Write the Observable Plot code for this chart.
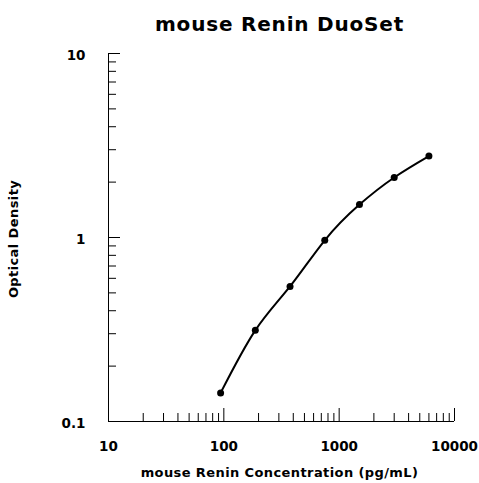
<!DOCTYPE html>
<html>
<head>
<meta charset="utf-8">
<script src="https://cdn.jsdelivr.net/npm/d3@7"></script>
<script src="https://cdn.jsdelivr.net/npm/@observablehq/plot@0.6"></script>
<style>
  html, body { margin: 0; padding: 0; background: #fff; }
  #chart svg { display: block; }
</style>
</head>
<body>
<div id="chart"></div>
<script>
const titleText = "mouse Renin DuoSet";
const xLabel = "mouse Renin Concentration (pg/mL)";
const yLabel = "Optical Density";

const concentration = [93.75, 187.5, 375, 750, 1500, 3000, 6000];
const opticalDensity = [0.143, 0.313, 0.542, 0.966, 1.51, 2.12, 2.77];

const xMajorTicks = [10, 100, 1000, 10000];
const xMinorTicks = [20, 30, 40, 50, 60, 70, 80, 90, 200, 300, 400, 500, 600, 700, 800, 900, 2000, 3000, 4000, 5000, 6000, 7000, 8000, 9000];
const yMajorTicks = [0.1, 1, 10];
const yMinorTicks = [0.2, 0.3, 0.4, 0.5, 0.6, 0.7, 0.8, 0.9, 2, 3, 4, 5, 6, 7, 8, 9];

const data = concentration.map((x, i) => ({x, y: opticalDensity[i]}));
const font = "'DejaVu Sans', sans-serif";

const W = 479, H = 483, mL = 108, mR = 25, mT = 53, mB = 62;
const frameW = W - mL - mR, frameH = H - mT - mB;

const chart = Plot.plot({
  width: W,
  height: H,
  marginLeft: mL,
  marginRight: mR,
  marginTop: mT,
  marginBottom: mB,
  style: {fontFamily: font, background: "#fff", color: "#000"},
  x: {type: "log", domain: [10, 10000]},
  y: {type: "log", domain: [0.1, 10]},
  marks: [
    // axis lines
    Plot.ruleY([0.1], {stroke: "#000", strokeWidth: 1}),
    Plot.ruleX([10], {stroke: "#000", strokeWidth: 1}),
    // x ticks (inward)
    Plot.tickX(xMajorTicks.slice(1), {x: d => d, insetTop: frameH - 13, stroke: "#000", strokeWidth: 1}),
    Plot.tickX(xMinorTicks, {x: d => d, insetTop: frameH - 8, stroke: "#000", strokeWidth: 1}),
    // y ticks (inward)
    Plot.tickY(yMajorTicks.slice(1), {y: d => d, insetRight: frameW - 12, stroke: "#000", strokeWidth: 1}),
    Plot.tickY(yMinorTicks, {y: d => d, insetRight: frameW - 8, stroke: "#000", strokeWidth: 1}),
    // tick labels
    Plot.axisX({ticks: xMajorTicks, tickSize: 0, tickPadding: 19.5, tickFormat: d => String(d), fontSize: 13.5, fontWeight: "bold", label: null, lineAnchor: "top"}),
    Plot.axisY({ticks: yMajorTicks, tickSize: 0, tickPadding: 23, tickFormat: d => String(d), fontSize: 13.5, fontWeight: "bold", label: null, dy: 2}),
    // curve and points
    Plot.line(data, {x: "x", y: "y", curve: "natural", stroke: "#000", strokeWidth: 2}),
    Plot.dot(data, {x: "x", y: "y", r: 3.5, fill: "#000", stroke: "none"}),
    // titles
    Plot.text([titleText], {frameAnchor: "top", textAnchor: "middle", dx: -2, dy: -29, lineAnchor: "middle", fontSize: 20, fontWeight: "bold", fill: "#000", text: d => d, style: {letterSpacing: "0.8px"}}),
    Plot.text([xLabel], {frameAnchor: "bottom", textAnchor: "middle", dx: -2, dy: 51, lineAnchor: "middle", fontSize: 13, fontWeight: "bold", fill: "#000", text: d => d}),
    Plot.text([yLabel], {frameAnchor: "left", textAnchor: "middle", dx: -94.5, dy: 1.5, rotate: -90, lineAnchor: "middle", fontSize: 13, fontWeight: "bold", fill: "#000", text: d => d})
  ]
});
// letter spacing for wider headline/axis titles as in the reference
d3.select(chart).selectAll("text").filter(function() { return this.textContent === titleText; }).style("letter-spacing", "0.8px");
d3.select(chart).selectAll("text").filter(function() { return this.textContent === xLabel || this.textContent === yLabel; }).style("letter-spacing", "0.4px");
document.getElementById("chart").appendChild(chart);
</script>
</body>
</html>
